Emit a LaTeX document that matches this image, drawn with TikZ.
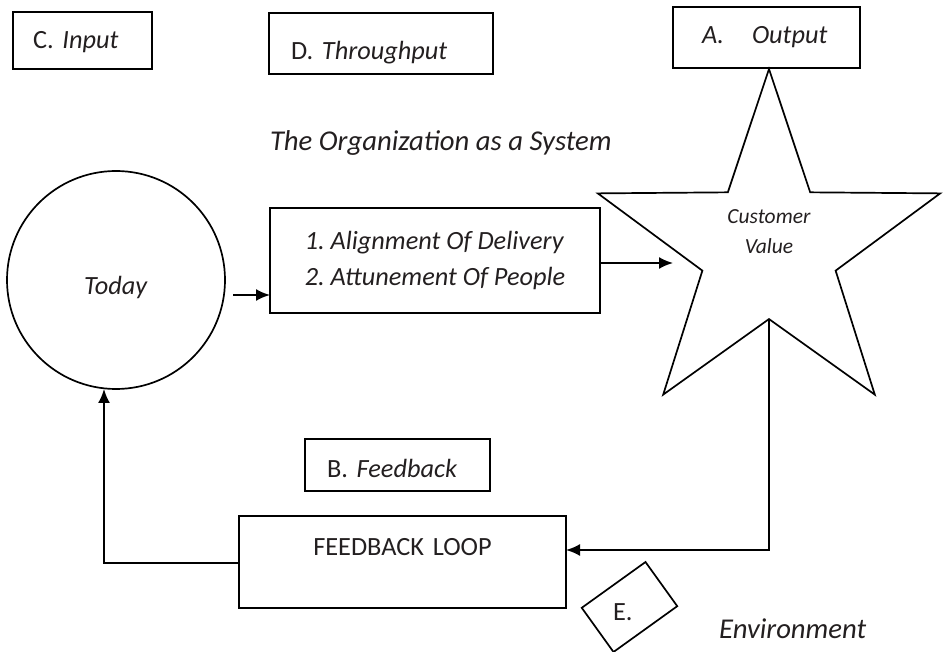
\documentclass[tikz,border=0pt]{standalone}
\usepackage{fontspec}
\setmainfont{Carlito}
\usetikzlibrary{shapes.geometric,arrows.meta}

\definecolor{ink}{HTML}{231F20}
% 11pt, 12pt and 9pt text at the drawing scale (1 unit = 1pt)
\newcommand{\sizeM}{\fontsize{26.3}{36}\selectfont}
\newcommand{\sizeL}{\fontsize{28.7}{34}\selectfont}
\newcommand{\sizeS}{\fontsize{21.5}{30}\selectfont}
\frenchspacing

\begin{document}
\begin{tikzpicture}[x=1pt,y=-1pt,
  every node/.style={text=ink, outer sep=0pt},
  labelbox/.style={draw=black, line width=1.7pt, font=\sizeM,
    anchor=north west, inner ysep=5pt, align=left},
  shapeline/.style={draw=black, line width=1.7pt},
  flow/.style={draw=black, line width=1.9pt,
    -{Latex[length=14pt,width=12pt]}},
  freetext/.style={inner sep=0pt, anchor=base west}
]
\useasboundingbox (0,0) rectangle (943,652);

% category boxes
\node[labelbox, inner xsep=20pt, text width=99pt,
      text height=32pt, text depth=15pt] (input) at (13,12)
      {C. \textit{Input}};
\node[labelbox, inner xsep=22pt, text width=180pt,
      text height=42pt, text depth=9pt] (through) at (269,13)
      {D. \textit{Throughput}};
\node[labelbox, inner xsep=29pt, text width=129pt,
      text height=32pt, text depth=19pt] (output) at (673,7)
      {\textit{A.}\hspace{28pt}\textit{Output}};
\node[labelbox, inner xsep=22pt, text width=141pt,
      text height=33pt, text depth=9pt] (feedback) at (305,439)
      {B. \textit{Feedback}};

% title
\node[freetext, font=\sizeL] (title) at (270,151)
      {\textit{The Organization as a System}};

% system elements
\node[circle, shapeline, minimum size=218pt, font=\sizeM,
      text height=35pt, text depth=5pt] (today) at (116,280)
      {\textit{Today}};
\node[labelbox, inner xsep=0pt, minimum width=330pt, minimum height=105pt]
      (steps) at (270,208)
      {\textit{1.\ Alignment Of Delivery}\\ \textit{2.\ Attunement Of People}};
\node[star, star points=5, star point ratio=2.57, minimum size=360pt,
      shapeline, inner sep=0pt] (value) at (769,249) {};
\node[font=\sizeS, align=center, inner sep=0pt] (valuetext) at (769,232)
      {\textit{Customer}\\ \textit{Value}};
\node[labelbox, inner xsep=5pt, text width=317pt, align=center,
      text height=34pt, text depth=48pt] (loop) at (239,516)
      {FEEDBACK LOOP};

% environment marker
\node[shapeline, rotate=35.7, minimum width=78.5pt, minimum height=54.4pt,
      inner sep=0pt] (envbox) at (629.5,607) {};
\node[freetext, font=\sizeM] (envmark) at (613,620) {E.};
\node[freetext, font=\sizeL] (envtext) at (719,638) {\textit{Environment}};

% flow connectors
\coordinate (valuein) at (673,263);
\draw[flow] ([shift={(8,15)}]today.east) -- ([shift={(0,15)}]today.east -| steps.west);
\draw[flow] (steps.east |- valuein) -- (valuein);
\draw[flow] (value.inner point 3) |- ([shift={(0,-12)}]loop.east);
\draw[flow] ([shift={(0,1)}]loop.west) -| ([shift={(-12,0)}]today.south);
\end{tikzpicture}
\end{document}
